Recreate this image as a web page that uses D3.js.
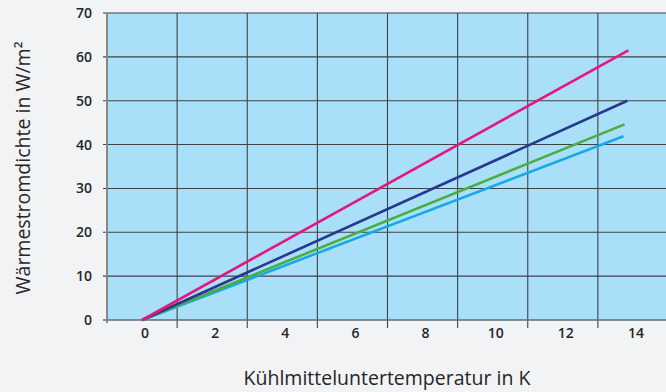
<!DOCTYPE html>
<html>
<head>
<meta charset="utf-8">
<script src="https://cdn.jsdelivr.net/npm/d3@7"></script>
<style>
  html,body{margin:0;padding:0;background:#f2f3f5;}
  svg{display:block;font-family:"Open Sans","Noto Sans",sans-serif;}
</style>
</head>
<body>
<svg id="chart" width="666" height="392"></svg>
<script>
/* ----- data ------------------------------------------------- */
const seriesNames  = ['pink','navy','green','cyan'];
const seriesColors = ['#e5177f','#26398c','#4aad3f','#17a9e6'];
const startX  = [0, 0, 0, 0];
const startY  = [0, 0, 0, 0];
const endX    = [13.87, 13.84, 13.76, 13.73];
const endY    = [61.5, 50.0, 44.6, 41.9];
const xTicks  = [0, 2, 4, 6, 8, 10, 12, 14];
const xGrid   = [1, 3, 5, 7, 9, 11, 13];
const yTicks  = [0, 10, 20, 30, 40, 50, 60, 70];
const xTitle  = 'Kühlmitteluntertemperatur in K';
const yTitle  = 'Wärmestromdichte in W/m²';

/* ----- setup ------------------------------------------------ */
const svg = d3.select('#chart'),
      L = 107, R = 668, T = 13, B = 320;

const x = d3.scaleLinear().domain([-1, 15]).range([L, R]);
const y = d3.scaleLinear().domain([0, 70]).range([B, T]);

/* plot background */
svg.append('rect')
  .attr('x', L).attr('y', T)
  .attr('width', R - L).attr('height', B - T)
  .attr('fill', '#aadff9');

/* horizontal grid + left ticks */
svg.append('g').selectAll('line')
  .data(yTicks.filter(d => d > 0 && d < 70))
  .join('line')
    .attr('x1', L - 4).attr('x2', R)
    .attr('y1', d => y(d)).attr('y2', d => y(d))
    .attr('stroke', '#3c4448').attr('stroke-width', 1.1);

/* top border */
svg.append('line')
  .attr('x1', L - 4).attr('x2', R)
  .attr('y1', y(70)).attr('y2', y(70))
  .attr('stroke', '#6b7880').attr('stroke-width', 1.6);

/* vertical grid + bottom ticks */
svg.append('g').selectAll('line')
  .data(xGrid)
  .join('line')
    .attr('x1', d => x(d)).attr('x2', d => x(d))
    .attr('y1', T).attr('y2', B + 8)
    .attr('stroke', '#3c4448').attr('stroke-width', 1.1);

/* bottom axis */
svg.append('line')
  .attr('x1', L - 4).attr('x2', R)
  .attr('y1', B).attr('y2', B)
  .attr('stroke', '#5d6d78').attr('stroke-width', 1.6);

/* left axis */
svg.append('line')
  .attr('x1', L).attr('x2', L)
  .attr('y1', T).attr('y2', B + 3)
  .attr('stroke', '#878787').attr('stroke-width', 2);

/* tick labels */
svg.append('g').selectAll('text')
  .data(yTicks)
  .join('text')
    .attr('x', 92).attr('y', d => y(d))
    .attr('dy', '0.36em').attr('text-anchor', 'end')
    .style('font-size', '14px').style('font-weight', 600).style('fill', '#262626')
    .text(d => d);

svg.append('g').selectAll('text')
  .data(xTicks)
  .join('text')
    .attr('x', d => x(d) + 3).attr('y', 338)
    .attr('text-anchor', 'middle')
    .style('font-size', '14px').style('font-weight', 600).style('fill', '#262626')
    .text(d => d);

/* titles */
svg.append('text')
  .attr('x', 387).attr('y', 385)
  .attr('text-anchor', 'middle')
  .style('font-size', '19.5px').style('fill', '#262626')
  .text(xTitle);

svg.append('text')
  .attr('transform', 'translate(30,168) rotate(-90)')
  .attr('text-anchor', 'middle')
  .style('font-size', '19.5px').style('fill', '#262626')
  .text(yTitle);

/* series lines */
const line = d3.line().x(d => x(d[0])).y(d => y(d[1]));
const lines = seriesNames.map((n, i) => ({
  name: n, color: seriesColors[i],
  pts: [[startX[i], startY[i]], [endX[i], endY[i]]]
}));

svg.append('g').selectAll('path')
  .data(lines.slice().reverse())
  .join('path')
    .attr('d', d => line(d.pts))
    .attr('fill', 'none')
    .attr('stroke', d => d.color)
    .attr('stroke-width', 2.6);
</script>
</body>
</html>
